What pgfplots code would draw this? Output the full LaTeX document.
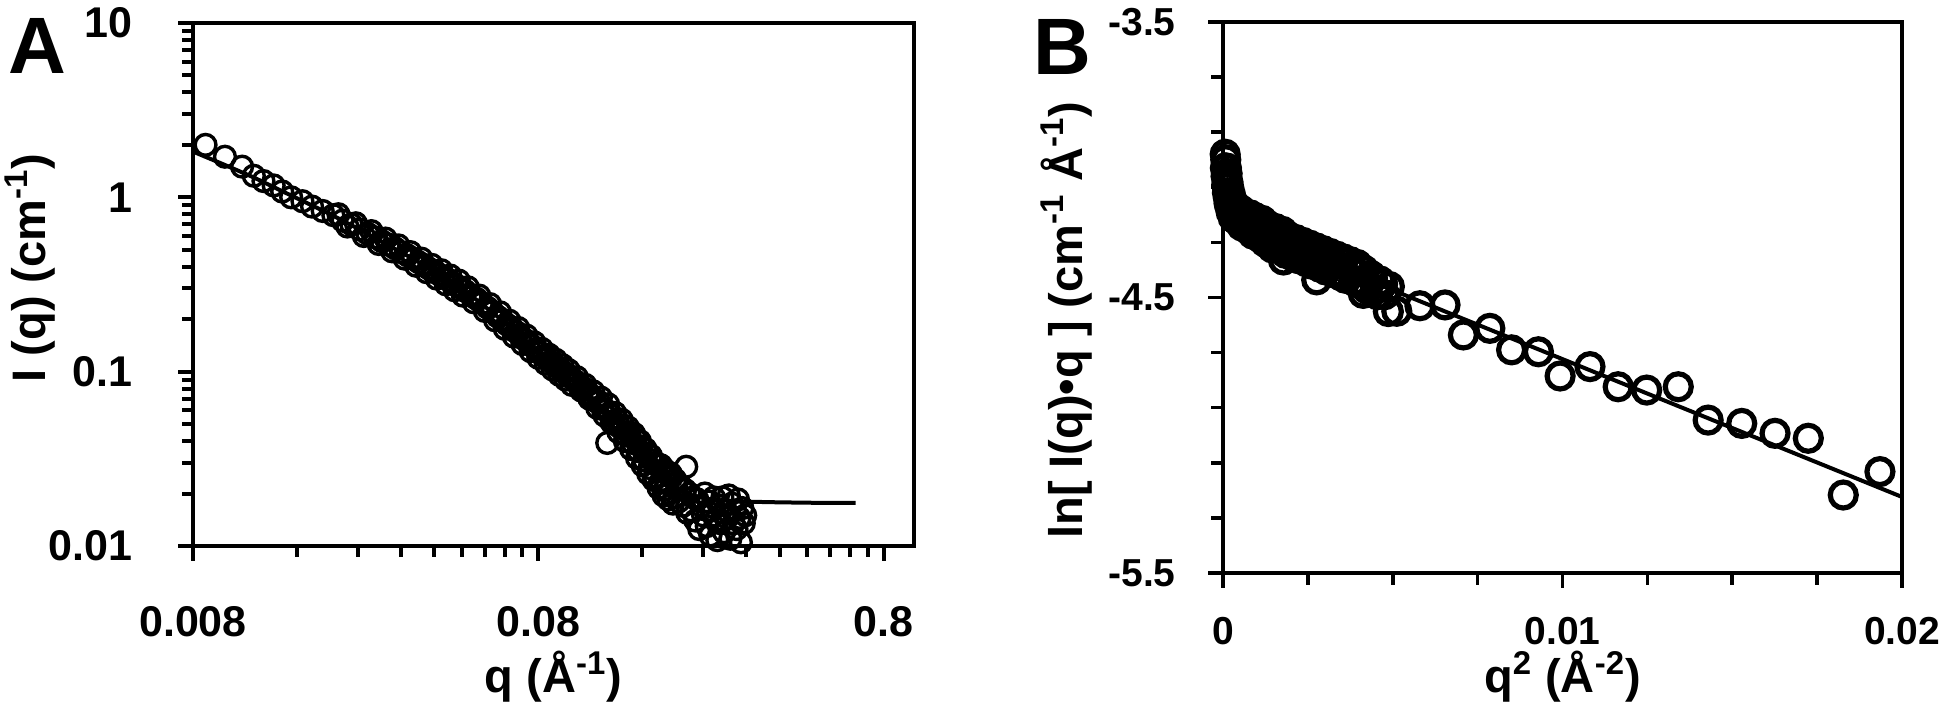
\documentclass[border=0pt]{standalone}
\usepackage{fontspec}
\setmainfont{Liberation Sans}
\usepackage{pgfplots}
\usepackage{pgfplotstable}
\pgfplotsset{compat=1.18}

\pgfplotstableread{
q I
0.0087 2.00
0.0099 1.71
0.0111 1.50
0.0120 1.33
0.0128 1.24
0.0137 1.17
0.0145 1.08
0.0154 1.00
0.0166 0.95
0.0177 0.885
0.0190 0.835
0.0204 0.79
0.0211 0.80
0.0217 0.735
0.0224 0.68
0.0230 0.70
0.0237 0.71
0.0243 0.655
0.0250 0.60
0.0256 0.62
0.0263 0.64
0.0269 0.59
0.0276 0.54
0.0282 0.56
0.0289 0.58
0.0295 0.535
0.0302 0.49
0.0308 0.51
0.0315 0.53
0.0321 0.485
0.0328 0.445
0.0334 0.465
0.0341 0.485
0.0347 0.445
0.0354 0.405
0.0360 0.425
0.0367 0.445
0.0373 0.408
0.0380 0.372
0.0386 0.390
0.0393 0.41
0.0399 0.377
0.0406 0.342
0.0412 0.362
0.0419 0.382
0.0425 0.349
0.0432 0.317
0.0438 0.337
0.0445 0.356
0.0451 0.324
0.0458 0.293
0.0464 0.312
0.0471 0.333
0.0477 0.302
0.0484 0.273
0.0490 0.292
0.0500 0.305
0.0510 0.276
0.0520 0.250
0.0530 0.262
0.0540 0.273
0.0550 0.247
0.0560 0.223
0.0570 0.233
0.0580 0.244
0.0590 0.220
0.0600 0.197
0.0610 0.207
0.0620 0.219
0.0630 0.197
0.0640 0.176
0.0650 0.186
0.0660 0.196
0.0670 0.178
0.0680 0.159
0.0690 0.169
0.0700 0.178
0.0710 0.160
0.0720 0.144
0.0730 0.153
0.0740 0.161
0.0750 0.146
0.0760 0.131
0.0770 0.140
0.0780 0.147
0.0790 0.133
0.0800 0.120
0.0810 0.128
0.0820 0.135
0.0830 0.123
0.0840 0.111
0.0850 0.118
0.0860 0.125
0.0870 0.114
0.0880 0.103
0.0890 0.110
0.0900 0.117
0.0910 0.106
0.0920 0.096
0.0930 0.102
0.0940 0.109
0.0950 0.099
0.0960 0.090
0.0970 0.096
0.0980 0.102
0.0990 0.093
0.1000 0.084
0.102 0.089
0.1035 0.093
0.105 0.083
0.1065 0.078
0.108 0.081
0.1095 0.084
0.111 0.075
0.1125 0.070
0.114 0.073
0.1155 0.077
0.117 0.068
0.1185 0.062
0.120 0.067
0.1215 0.071
0.123 0.061
0.1245 0.056
0.126 0.060
0.1267 0.039
0.1275 0.065
0.129 0.058
0.1305 0.051
0.132 0.052
0.1335 0.058
0.135 0.053
0.1365 0.045
0.138 0.048
0.1395 0.053
0.141 0.049
0.1425 0.040
0.144 0.043
0.1455 0.048
0.147 0.044
0.1485 0.036
0.150 0.039
0.1515 0.044
0.153 0.041
0.1545 0.032
0.156 0.035
0.1575 0.040
0.159 0.037
0.1605 0.029
0.162 0.031
0.1635 0.036
0.165 0.034
0.1665 0.026
0.168 0.028
0.1695 0.033
0.171 0.031
0.1725 0.024
0.174 0.025
0.1755 0.030
0.177 0.029
0.1785 0.0215
0.180 0.023
0.1815 0.029
0.183 0.027
0.1845 0.0195
0.186 0.021
0.1875 0.027
0.189 0.026
0.1905 0.0185
0.192 0.020
0.1935 0.026
0.195 0.025
0.1965 0.0175
0.198 0.019
0.1995 0.024
0.201 0.023
0.204 0.018
0.207 0.022
0.210 0.017
0.2146 0.0285
0.213 0.021
0.216 0.0155
0.219 0.020
0.222 0.016
0.225 0.019
0.228 0.014
0.231 0.0185
0.234 0.0125
0.237 0.017
0.240 0.015
0.243 0.020
0.246 0.013
0.249 0.018
0.252 0.0115
0.255 0.016
0.258 0.019
0.261 0.014
0.264 0.0108
0.267 0.017
0.270 0.0135
0.273 0.019
0.276 0.012
0.279 0.016
0.282 0.0145
0.285 0.0195
0.288 0.011
0.291 0.0175
0.294 0.0135
0.297 0.016
0.300 0.0125
0.303 0.0185
0.306 0.0145
0.309 0.0105
0.312 0.0165
0.315 0.0135
0.318 0.015
}\dataA

\pgfplotstableread{
q I
0.008 1.83
0.009 1.66
0.010 1.52
0.012 1.30
0.015 1.05
0.020 0.80
0.025 0.635
0.030 0.52
0.035 0.44
0.040 0.375
0.045 0.325
0.050 0.283
0.060 0.212
0.070 0.165
0.080 0.131
0.090 0.107
0.100 0.090
0.120 0.065
0.140 0.047
0.160 0.034
0.180 0.0262
0.200 0.0218
0.220 0.0197
0.250 0.0185
0.300 0.0180
0.400 0.0178
0.500 0.0177
0.664 0.0177
}\fitA

\pgfplotstableread{
s v
0.000064 -3.98
0.000070 -4.03
0.000081 -4.00
0.000090 -4.06
0.000100 -4.03
0.000110 -4.09
0.000121 -4.05
0.000130 -4.12
0.000144 -4.08
0.000160 -4.14
0.000169 -4.10
0.000180 -4.16
0.000196 -4.12
0.000210 -4.17
0.000225 -4.13
0.000240 -4.19
0.000256 -4.15
0.000289 -4.17
0.000300 -4.21
0.000324 -4.16
0.000350 -4.17
0.000361 -4.19
0.000400 -4.18
0.000420 -4.22
0.000441 -4.20
0.000484 -4.19
0.000500 -4.18
0.000529 -4.21
0.000550 -4.24
0.000576 -4.22
0.000600 -4.19
0.000625 -4.20
0.000676 -4.23
0.000700 -4.25
0.000729 -4.21
0.000784 -4.24
0.000800 -4.20
0.000841 -4.22
0.000880 -4.27
0.000900 -4.25
0.000950 -4.21
0.000961 -4.23
0.001024 -4.26
0.001050 -4.28
0.001089 -4.24
0.001150 -4.22
0.001156 -4.27
0.001225 -4.25
0.001250 -4.30
0.001296 -4.28
0.001350 -4.24
0.001369 -4.26
0.001444 -4.30
0.001450 -4.32
0.001521 -4.27
0.001550 -4.25
0.001600 -4.29
0.001650 -4.32
0.001681 -4.31
0.001750 -4.26
0.001764 -4.28
0.001780 -4.364
0.001849 -4.32
0.001850 -4.34
0.001936 -4.29
0.001950 -4.28
0.002025 -4.33
0.002050 -4.35
0.002116 -4.31
0.002150 -4.29
0.002209 -4.35
0.002250 -4.36
0.002304 -4.32
0.002350 -4.30
0.002401 -4.34
0.002450 -4.37
0.002500 -4.37
0.002550 -4.31
0.002601 -4.33
0.002650 -4.38
0.002704 -4.36
0.002750 -4.32
0.002760 -4.436
0.002809 -4.38
0.002850 -4.39
0.002916 -4.35
0.002950 -4.33
0.003025 -4.40
0.003050 -4.40
0.003136 -4.36
0.003150 -4.34
0.003249 -4.38
0.003250 -4.41
0.003350 -4.35
0.003364 -4.41
0.003450 -4.42
0.003481 -4.37
0.003550 -4.36
0.003600 -4.43
0.003650 -4.43
0.003721 -4.39
0.003750 -4.37
0.003844 -4.41
0.003850 -4.44
0.003950 -4.38
0.003969 -4.44
0.004050 -4.45
0.004096 -4.40
0.004130 -4.485
0.004150 -4.40
0.004225 -4.45
0.004250 -4.47
0.004356 -4.42
0.004400 -4.43
0.004489 -4.47
0.004550 -4.49
0.004624 -4.44
0.004700 -4.45
0.004761 -4.49
0.004870 -4.551
0.004900 -4.46
0.005120 -4.55
0.005800 -4.53
0.006540 -4.527
0.007080 -4.636
0.007860 -4.612
0.008500 -4.690
0.009290 -4.697
0.009930 -4.785
0.010810 -4.751
0.011640 -4.824
0.012480 -4.836
0.013410 -4.824
0.014290 -4.945
0.015280 -4.957
0.016260 -4.993
0.017240 -5.011
0.018270 -5.217
0.019350 -5.132
}\dataB

\pgfplotstableread{
s v
0.0040 -4.4235
0.0200 -5.224
}\fitB

\newcommand{\tickfontA}{\fontsize{21.5}{21.5}\selectfont\bfseries}
\newcommand{\tickfontB}{\fontsize{19.5}{19.5}\selectfont\bfseries}
\newcommand{\labfont}{\fontsize{23.5}{23.5}\selectfont\bfseries}
\newcommand{\letterfont}{\fontsize{40}{40}\selectfont\bfseries}

\begin{document}
\begin{tikzpicture}
\useasboundingbox (0,0) rectangle (975pt,355.5pt);

% ---------------- Panel A ----------------
\begin{axis}[
  at={(96.5pt,82.5pt)}, anchor=south west, scale only axis,
  width=360.5pt, height=261.5pt,
  xmode=log, ymode=log,
  xmin=0.008, xmax=0.98, ymin=0.01, ymax=10,
  clip=false,
  axis line style={line width=2pt},
  tick align=outside, xtick pos=left, ytick pos=left,
  major tick length=7.5pt, minor tick length=5.5pt,
  every tick/.style={black, line width=2pt},
  minor tick style={black, line width=2pt},
  xtick={0.008,0.08,0.8}, xticklabels={0.008,0.08,0.8},
  minor xtick={0.016,0.024,0.032,0.04,0.048,0.056,0.064,0.072,0.16,0.24,0.32,0.4,0.48,0.56,0.64,0.72},
  ytick={0.01,0.1,1,10}, yticklabels={0.01,0.1,1,10},
  minor ytick={0.02,0.03,0.04,0.05,0.06,0.07,0.08,0.09,0.2,0.3,0.4,0.5,0.6,0.7,0.8,0.9,2,3,4,5,6,7,8,9},
  tick label style={font=\tickfontA},
  xticklabel style={anchor=north, inner sep=0pt, yshift=-22.5pt},
  yticklabel style={anchor=east, inner sep=0pt, xshift=-22.5pt},
  xlabel={q (Å\textsuperscript{-1})},
  ylabel={I (q) (cm\textsuperscript{-1})},
  label style={font=\labfont},
  xlabel style={at={(axis description cs:0.5,-0.2505)}, anchor=center},
  ylabel style={at={(axis description cs:-0.226,0.5315)}, anchor=center},
]
\addplot[no marks, line width=2pt, black] table[x=q,y=I] {\fitA};
\addplot[only marks, mark=o, mark size=5.2pt, mark options={line width=1.7pt, black}] table[x=q,y=I] {\dataA};
\node[font=\letterfont] at (axis description cs:-0.2164,0.956) {A};
\end{axis}

% ---------------- Panel B ----------------
\begin{axis}[
  at={(611.5pt,69pt)}, anchor=south west, scale only axis,
  width=339.5pt, height=275.5pt,
  xmin=0, xmax=0.02, ymin=-5.5, ymax=-3.5,
  clip=false,
  scaled x ticks=false, scaled y ticks=false,
  axis line style={line width=1.8pt},
  tick align=outside, xtick pos=left, ytick pos=left,
  major tick length=7.5pt, minor tick length=6pt,
  every tick/.style={black, line width=1.8pt},
  minor tick style={black, line width=1.8pt},
  xtick={0,0.01,0.02}, xticklabels={0,0.01,0.02},
  minor xtick={0.0025,0.005,0.0075,0.0125,0.015,0.0175},
  ytick={-5.5,-4.5,-3.5}, yticklabels={-5.5,-4.5,-3.5},
  minor ytick={-5.3,-5.1,-4.9,-4.7,-4.3,-4.1,-3.9,-3.7},
  tick label style={font=\tickfontB},
  xticklabel style={anchor=north, inner sep=0pt, yshift=-14.5pt},
  yticklabel style={anchor=east, inner sep=0pt, xshift=-16pt},
  xlabel={q\textsuperscript{2} (Å\textsuperscript{-2})},
  ylabel={ln[ I(q)•q ] (cm\textsuperscript{-1} Å\textsuperscript{-1})},
  label style={font=\labfont},
  xlabel style={at={(axis description cs:0.5,-0.189)}, anchor=center},
  ylabel style={at={(axis description cs:-0.231,0.459)}, anchor=center},
]
\addplot[only marks, mark=o, mark size=6.5pt, mark options={line width=2.6pt, black}] table[x=s,y=v] {\dataB};
\addplot[no marks, line width=2pt, black] table[x=s,y=v] {\fitB};
\node[font=\letterfont] at (axis description cs:-0.2364,0.9555) {B};
\end{axis}
\end{tikzpicture}
\end{document}
